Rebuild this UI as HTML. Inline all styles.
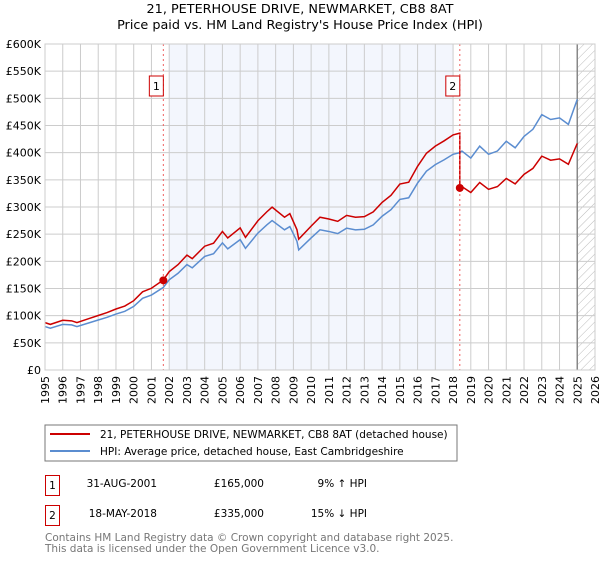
<!DOCTYPE html>
<html><head><meta charset="utf-8"><style>
body{margin:0;background:#fff;font-family:"DejaVu Sans","Liberation Sans",sans-serif;}
svg text{font-family:"DejaVu Sans","Liberation Sans",sans-serif;}
</style></head><body>
<svg id="chart" width="600" height="560" xmlns="http://www.w3.org/2000/svg">
<defs><pattern id="hatch" width="6" height="6" patternUnits="userSpaceOnUse" patternTransform="rotate(45)"><line x1="0" y1="0" x2="0" y2="6" stroke="#bbb" stroke-width="1"/></pattern></defs>
<text x="300" y="13" text-anchor="middle" font-size="12.8">21, PETERHOUSE DRIVE, NEWMARKET, CB8 8AT</text>
<text x="300" y="29" text-anchor="middle" font-size="12.8">Price paid vs. HM Land Registry's House Price Index (HPI)</text>
<g id="plot"></g>
<rect x="45" y="425" width="412" height="36" fill="#fff" stroke="#777"/>
<line x1="50" y1="434" x2="90" y2="434" stroke="#cc0000" stroke-width="2"/>
<text x="100" y="438" font-size="10.5">21, PETERHOUSE DRIVE, NEWMARKET, CB8 8AT (detached house)</text>
<line x1="50" y1="451" x2="90" y2="451" stroke="#5b8dd0" stroke-width="2"/>
<text x="100" y="455" font-size="10.5">HPI: Average price, detached house, East Cambridgeshire</text>
<g font-size="10.5">
<rect x="45.5" y="475.5" width="14" height="20" fill="none" stroke="#cc0000"/>
<text x="52.5" y="489" text-anchor="middle">1</text>
<text x="157" y="487" text-anchor="end">31-AUG-2001</text>
<text x="264" y="487" text-anchor="end">£165,000</text>
<text x="367" y="487" text-anchor="end">9% ↑ HPI</text>
</g>
<g font-size="10.5">
<rect x="45.5" y="505.5" width="14" height="20" fill="none" stroke="#cc0000"/>
<text x="52.5" y="519" text-anchor="middle">2</text>
<text x="157" y="517" text-anchor="end">18-MAY-2018</text>
<text x="264" y="517" text-anchor="end">£335,000</text>
<text x="367" y="517" text-anchor="end">15% ↓ HPI</text>
</g>
<text x="45" y="541" font-size="10.5" fill="#777">Contains HM Land Registry data © Crown copyright and database right 2025.</text>
<text x="45" y="552" font-size="10.5" fill="#777">This data is licensed under the Open Government Licence v3.0.</text>
</svg>
<script>
const hpiYears=[1995.0,1995.3,1996.0,1996.5,1996.8,1997.5,1998.0,1998.5,1999.0,1999.5,2000.0,2000.5,2001.0,2001.67,2002.0,2002.5,2003.0,2003.3,2004.0,2004.5,2005.0,2005.3,2006.0,2006.3,2007.0,2007.5,2007.8,2008.5,2008.8,2009.2,2009.3,2010.0,2010.5,2011.0,2011.5,2012.0,2012.5,2013.0,2013.5,2014.0,2014.5,2015.0,2015.5,2016.0,2016.5,2017.0,2017.5,2018.0,2018.38,2018.5,2019.0,2019.5,2020.0,2020.5,2021.0,2021.5,2022.0,2022.5,2023.0,2023.5,2024.0,2024.5,2025.0];
const hpiValues=[80,77,84,83,80,87,92,97,103,108,117,132,138,152,166,178,194,188,209,214,234,223,240,224,252,267,275,258,264,237,221,243,258,255,251,261,258,259,267,283,295,314,317,344,366,378,387,397,400,403,390,412,397,403,421,409,430,443,470,461,464,452,498];
const saleYears=[2001.67,2018.38];
const salePrices=[165,335];
const yTicks=[0,50,100,150,200,250,300,350,400,450,500,550,600];
const yTickLabels=["£0","£50K","£100K","£150K","£200K","£250K","£300K","£350K","£400K","£450K","£500K","£550K","£600K"];
const xTicks=[1995,1996,1997,1998,1999,2000,2001,2002,2003,2004,2005,2006,2007,2008,2009,2010,2011,2012,2013,2014,2015,2016,2017,2018,2019,2020,2021,2022,2023,2024,2025,2026];
const L=45,R=595,T=44,B=370;
const xs=y=>L+(y-1995)/(2026-1995)*(R-L);
const ys=v=>B-v/600*(B-T);
const NS="http://www.w3.org/2000/svg";
const g=document.getElementById('plot');
function mk(t,a){const e=document.createElementNS(NS,t);for(const k in a)e.setAttribute(k,a[k]);g.appendChild(e);return e;}
let e;
e=mk('rect',{x:L,y:T,width:R-L,height:B-T,fill:'#fff'});


e=mk('rect',{x:xs(2002),y:T,width:xs(2018)-xs(2002),height:B-T,fill:'#f3f6fd'});


e=mk('rect',{x:xs(2025),y:T,width:R-xs(2025),height:B-T,fill:'url(#hatch)'});


yTicks.forEach((v,i)=>{
 e=mk('line',{x1:L,x2:R,y1:ys(v),y2:ys(v),stroke:'#ccc'});
 
 
 e=mk('text',{x:L-4,y:ys(v)+4,'text-anchor':'end','font-size':'11'});
 e.textContent=yTickLabels[i];
 
 
});
xTicks.forEach(y=>{
 e=mk('line',{x1:xs(y),x2:xs(y),y1:T,y2:B,stroke:'#ccc'});
 
 
 e=mk('text',{x:xs(y)+4,y:B+6,'text-anchor':'end','font-size':'11',transform:`rotate(-90 ${xs(y)+4} ${B+6})`});
 e.textContent=y;
 
 
});
e=mk('line',{x1:xs(2025),x2:xs(2025),y1:T,y2:B,stroke:'#888','stroke-width':1.5});


function hpiAt(y){for(let i=0;i<hpiYears.length-1;i++){if(y<=hpiYears[i+1]){const t=(y-hpiYears[i])/(hpiYears[i+1]-hpiYears[i]);return hpiValues[i]+t*(hpiValues[i+1]-hpiValues[i]);}}return hpiValues[hpiValues.length-1];}
const ratio1=1.09, ratio2=salePrices[1]/hpiAt(saleYears[1]);
let redPts=[];
hpiYears.forEach((y,i)=>{if(y<saleYears[1])redPts.push([y,hpiValues[i]*ratio1]);});
redPts.push([saleYears[1],hpiAt(saleYears[1])*ratio1]);
redPts.push([saleYears[1],salePrices[1]]);
hpiYears.forEach((y,i)=>{if(y>saleYears[1])redPts.push([y,hpiValues[i]*ratio2]);});
e=mk('polyline',{points:hpiYears.map((y,i)=>xs(y)+','+ys(hpiValues[i])).join(' '),fill:'none',stroke:'#5b8dd0','stroke-width':1.5});


e=mk('polyline',{points:redPts.map(p=>xs(p[0])+','+ys(p[1])).join(' '),fill:'none',stroke:'#cc0000','stroke-width':1.5});


saleYears.forEach((y,i)=>{
 e=mk('line',{x1:xs(y),x2:xs(y),y1:T,y2:B,stroke:'#f06060','stroke-dasharray':'2,3'});
 
 
 e=mk('circle',{cx:xs(y),cy:ys(salePrices[i]),r:4,fill:'#cc0000'});
 
 
 e=mk('rect',{x:xs(y)-14,y:76,width:14,height:20,fill:'#fff',stroke:'#cc0000'});
 
 
 e=mk('text',{x:xs(y)-7,y:90,'text-anchor':'middle','font-size':'11'});
 e.textContent=String(i+1);
 
 
});
e=mk('rect',{x:L,y:T,width:R-L,height:B-T,fill:'none',stroke:'#ccc'});


</script>
</body></html>
